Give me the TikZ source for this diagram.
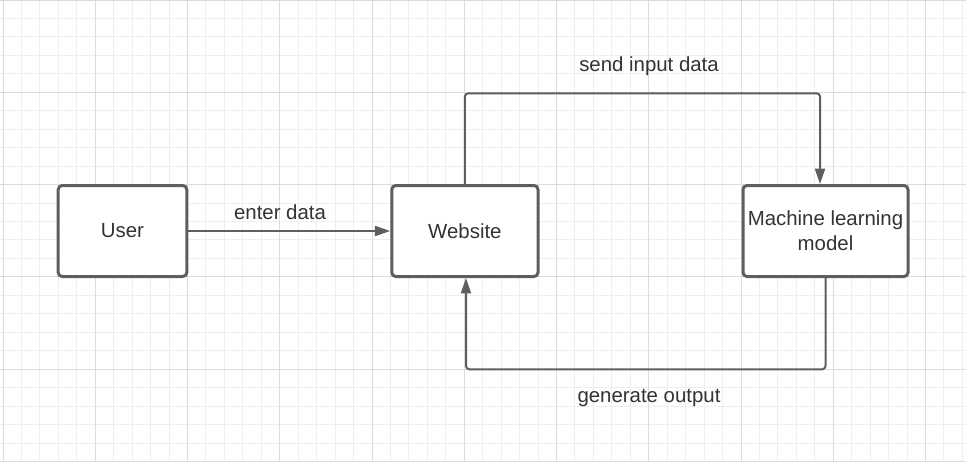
\documentclass[tikz,border=0pt]{standalone}
\usepackage{fontspec}
\setmainfont{Liberation Sans}
\usepackage{tikz}
\usetikzlibrary{arrows.meta}

\definecolor{linegray}{HTML}{5E5E5E}
\definecolor{textgray}{HTML}{333333}
\definecolor{gridminor}{HTML}{EEEEEE}
\definecolor{gridmajor}{HTML}{DCDCDC}

\tikzset{
  box/.style={draw=linegray, line width=2.25pt, rounded corners=3pt, fill=white,
    minimum height=68.25pt, text=textgray, align=center,
    font=\fontsize{15.3}{18.75}\selectfont},
  conn/.style={draw=linegray, line width=1.5pt, rounded corners=2.5pt,
    -{Triangle[length=11.5pt,width=7.5pt]}},
  lbl/.style={text=textgray, font=\fontsize{15.3}{18.75}\selectfont}
}

\begin{document}
\begin{tikzpicture}[x=0.75pt,y=-0.75pt]

\useasboundingbox (0,0) rectangle (966,462);
\fill[white] (0,0) rectangle (966,462);
\foreach \i in {0,...,52}
  \draw[gridminor, line width=0.75pt] (3+18.45*\i,0) -- (3+18.45*\i,462);
\foreach \j in {0,...,25}
  \draw[gridminor, line width=0.75pt] (0,18.46*\j) -- (966,18.46*\j);
\foreach \i in {0,...,10}
  \draw[gridmajor, line width=0.75pt] (3+92.25*\i,0) -- (3+92.25*\i,462);
\foreach \j in {0,...,5}
  \draw[gridmajor, line width=0.75pt] (0,92.3*\j) -- (966,92.3*\j);

\node[box, minimum width=96.4pt] (user) at (122.5,231) {User};
\node[box, minimum width=109.7pt] (web) at (464.9,231) {Website};
\node[box, minimum width=123.75pt] (ml) at (825.5,231) {Machine learning\\model};

\coordinate (sendc) at (820,93.3);
\coordinate (genc) at (466,369.3);

\draw[conn] (user) -- (web);
\draw[conn] (web.north) |- (sendc) -- (sendc |- ml.north);
\draw[conn] (ml.south) |- (genc) -- (genc |- web.south);

\node[lbl] (enterlbl) at (280,212) {enter data};
\node[lbl] (sendlbl) at (649,66) {send input data};
\node[lbl] (genlbl) at (649,398.5) {generate output};

\end{tikzpicture}
\end{document}
